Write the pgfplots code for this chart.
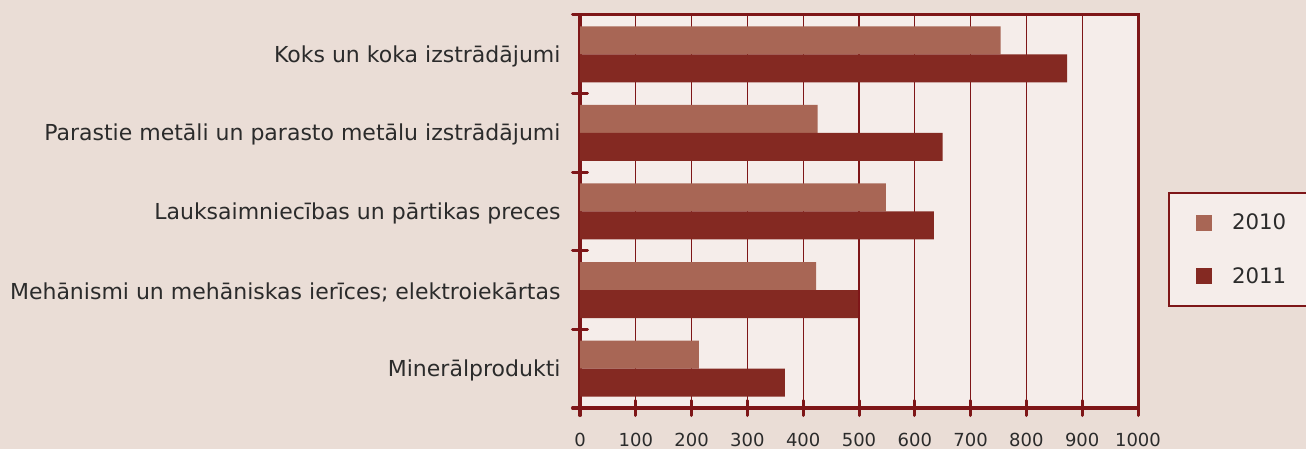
\documentclass[border=0pt]{standalone}
\usepackage{pgfplots}
\pgfplotsset{compat=1.18}
\usepackage{fontspec}
\setmainfont{DejaVu Sans}
\definecolor{bg}{HTML}{EADDD6}
\definecolor{plotbg}{HTML}{F5EDEA}
\definecolor{cA}{HTML}{A86655}
\definecolor{cB}{HTML}{842922}
\definecolor{ax}{HTML}{7E1618}
\definecolor{txt}{HTML}{2B2B2B}
\begin{document}
\begin{tikzpicture}
\fill[bg] (0,0) rectangle (1306bp,449bp);
\useasboundingbox (0,0) rectangle (1306bp,449bp);
\begin{axis}[
  at={(580bp,41bp)}, anchor=south west,
  scale only axis, width=558bp, height=393bp,
  xmin=0, xmax=1000, ymin=0, ymax=5,
  axis background/.style={fill=plotbg},
  axis line style={ax, line width=3bp},
  xtick={0,100,...,1000},
  minor xtick={0,100,...,1000},
  ytick={0.5,1.5,2.5,3.5,4.5},
  minor ytick={0,1,2,3,4,5},
  yticklabels={Minerālprodukti, {Mehānismi un mehāniskas ierīces; elektroiekārtas}, Lauksaimniecības un pārtikas preces, Parastie metāli un parasto metālu izstrādājumi, Koks un koka izstrādājumi},
  major tick length=0pt,
  minor tick length=15bp,
  tick align=center,
  xtick pos=bottom, ytick pos=left,
  minor tick style={ax, line width=3bp, line cap=round},
  xmajorgrids, major grid style={ax, line width=1.1bp},
  /pgf/number format/assume math mode=true,
  /pgf/number format/1000 sep={},
  xticklabel style={font=\fontsize{18bp}{21bp}\selectfont, text=txt, yshift=-22bp},
  yticklabel style={font=\fontsize{22bp}{26bp}\selectfont, text=txt, xshift=-16bp, yshift=-2bp},
  legend style={at={(1.0538,0.5496)}, anchor=north west, draw=ax, line width=2bp,
    fill=plotbg, font=\fontsize{21.3bp}{25bp}\selectfont, text=txt,
    row sep=32bp, inner xsep=8bp, inner ysep=19bp},
  legend cell align=left,
  legend image code/.code={\path (0bp,0bp); \fill[#1, draw=none] (19bp,-8bp) rectangle (35bp,8bp);},
]
\addplot[xbar, fill=cA, draw=none, bar width=28bp, bar shift=14bp] coordinates {
  (213,0.5) (423,1.5) (548,2.5) (426,3.5) (754,4.5)};
\addlegendentry{\makebox[110bp][l]{\hspace{18bp}2010}}
\addplot[xbar, fill=cB, draw=none, bar width=28bp, bar shift=-14bp] coordinates {
  (367,0.5) (498,1.5) (634,2.5) (650,3.5) (873,4.5)};
\addlegendentry{\makebox[110bp][l]{\hspace{18bp}2011}}
\end{axis}
\end{tikzpicture}
\end{document}
